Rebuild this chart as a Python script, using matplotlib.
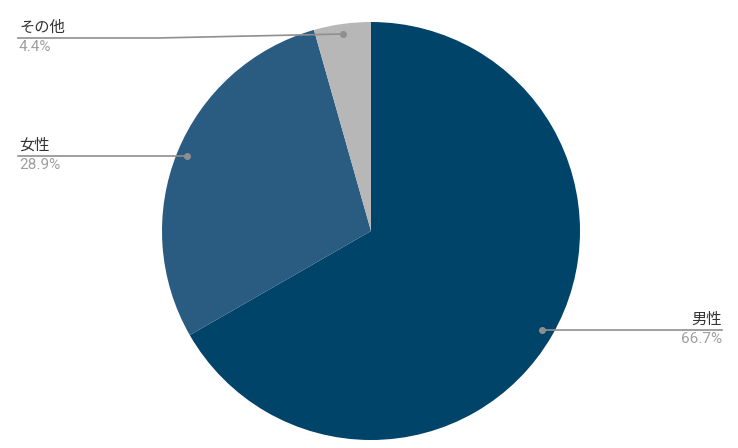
import numpy as np
import matplotlib
matplotlib.use('Agg')
import matplotlib.pyplot as plt

plt.rcParams['font.family'] = ['Noto Sans CJK JP', 'DejaVu Sans']

labels = ['男性', '女性', 'その他']
values = [66.7, 28.9, 4.4]
colors = ['#00446A', '#2A5C82', '#B7B7B7']

W, H = 738, 448
fig = plt.figure(figsize=(W/100, H/100), dpi=100)
ax = fig.add_axes([0, 0, 1, 1])

cx, cy, r = 371, H-231, 209
ax.pie(values, colors=colors, startangle=90, counterclock=False,
       center=(cx, cy), radius=r, frame=True,
       wedgeprops=dict(linewidth=0))
ax.set_xlim(0, W)
ax.set_ylim(0, H)
ax.set_aspect('auto')
ax.axis('off')

# callout lines (pixel coords from top)
lc = '#8f8f8f'
tc = '#333333'
pc = '#9e9e9e'
fs = 11
pf = ['Roboto', 'DejaVu Sans']

# その他
ax.plot([18, 157, 343], [H-38, H-38, H-34], color=lc, lw=1.2)
ax.plot(343, H-34, 'o', color=lc, ms=4)
ax.text(19, H-36, labels[2], ha='left', va='bottom', color=tc, fontsize=fs)
ax.text(19, H-40, '%.1f%%' % values[2], ha='left', va='top', color=pc, fontsize=fs, family=pf)

# 女性
ax.plot([18, 187], [H-156, H-156], color=lc, lw=1.2)
ax.plot(187, H-156, 'o', color=lc, ms=4)
ax.text(19, H-154, labels[1], ha='left', va='bottom', color=tc, fontsize=fs)
ax.text(19, H-158, '%.1f%%' % values[1], ha='left', va='top', color=pc, fontsize=fs, family=pf)

# 男性
ax.plot([542, 722], [H-330, H-330], color=lc, lw=1.2)
ax.plot(542, H-330, 'o', color=lc, ms=4)
ax.text(722, H-328, labels[0], ha='right', va='bottom', color=tc, fontsize=fs)
ax.text(722, H-332, '%.1f%%' % values[0], ha='right', va='top', color=pc, fontsize=fs, family=pf)

fig.savefig('out.png', dpi=100)
